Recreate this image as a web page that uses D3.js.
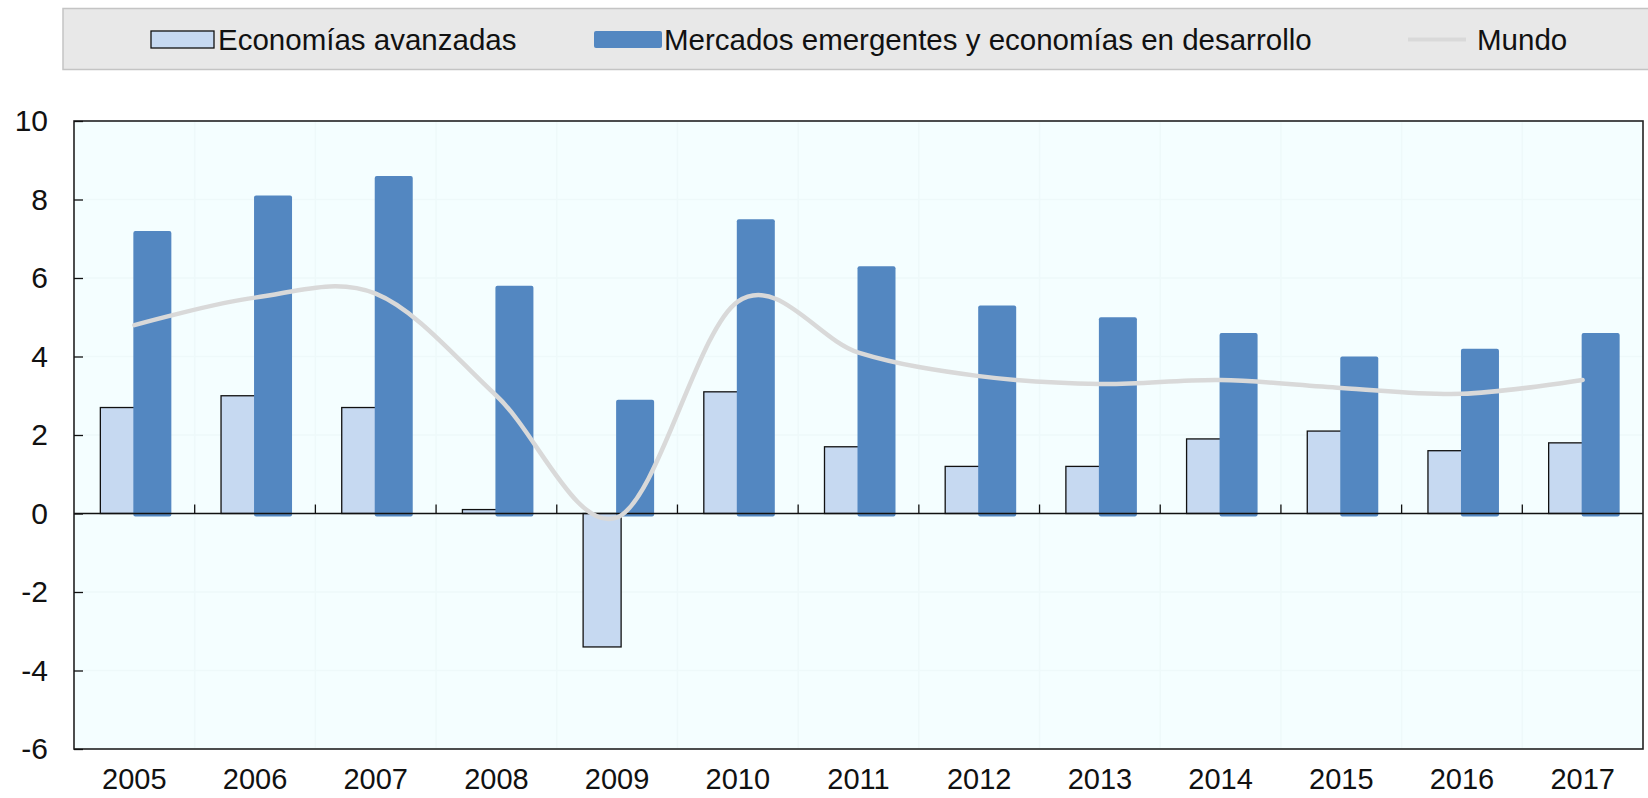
<!DOCTYPE html>
<html>
<head>
<meta charset="utf-8">
<script src="https://cdn.jsdelivr.net/npm/d3@7"></script>
<style>
  body { margin: 0; background: #fff; }
  svg { display: block; font-family: "Liberation Sans", Arial, sans-serif; }
</style>
</head>
<body>
<svg id="chart" width="1648" height="798"></svg>
<script>
// data
const years = ['2005','2006','2007','2008','2009','2010','2011','2012','2013','2014','2015','2016','2017'];
const avanzadas = [2.7, 3.0, 2.7, 0.1, -3.4, 3.1, 1.7, 1.2, 1.2, 1.9, 2.1, 1.6, 1.8];
const emergentes = [7.2, 8.1, 8.6, 5.8, 2.9, 7.5, 6.3, 5.3, 5.0, 4.6, 4.0, 4.2, 4.6];
const mundo = [4.8, 5.5, 5.6, 3.0, -0.1, 5.4, 4.1, 3.5, 3.3, 3.4, 3.2, 3.05, 3.4];
const yTicks = [-6, -4, -2, 0, 2, 4, 6, 8, 10];
const seriesNames = ['Economías avanzadas', 'Mercados emergentes y economías en desarrollo', 'Mundo'];

const lightBlue = '#c6d9f1', darkBlue = '#5387c1', lineGray = '#d9d9d9';

window.onload = function() {
  let svg = d3.select('#chart');
  let left = 74, right = 1643, top = 121, bottom = 749;

  let x = d3.scaleBand().domain(years).range([left, right]);
  let y = d3.scaleLinear().domain([-6, 10]).range([bottom, top]);
  let cx = function(d) { return x(d) + x.bandwidth()/2; };

  // plot background
  svg.append('rect')
    .attr('x', left).attr('y', top)
    .attr('width', right-left).attr('height', bottom-top)
    .attr('fill', '#f4feff');

  // very faint grid
  svg.append('g').selectAll('line').data(yTicks).enter().append('line')
    .attr('x1', left).attr('x2', right)
    .attr('y1', function(d){ return y(d); }).attr('y2', function(d){ return y(d); })
    .attr('stroke', '#eef9fa').attr('stroke-width', 1.5);
  svg.append('g').selectAll('line').data(years.slice(1)).enter().append('line')
    .attr('x1', function(d){ return x(d); }).attr('x2', function(d){ return x(d); })
    .attr('y1', top).attr('y2', bottom)
    .attr('stroke', '#eef9fa').attr('stroke-width', 1.5);

  // bars: light behind, dark on top
  let barW = 38;
  svg.append('g').selectAll('rect').data(years).enter().append('rect')
    .attr('x', function(d){ return cx(d) - 34; })
    .attr('y', function(d, i){ return y(Math.max(0, avanzadas[i])); })
    .attr('width', barW)
    .attr('height', function(d, i){ return Math.abs(y(avanzadas[i]) - y(0)); })
    .attr('fill', lightBlue)
    .attr('stroke', '#111').attr('stroke-width', 1.3);

  svg.append('g').selectAll('rect').data(years).enter().append('rect')
    .attr('x', function(d){ return cx(d) - 1; })
    .attr('y', function(d, i){ return y(emergentes[i]); })
    .attr('width', barW)
    .attr('height', function(d, i){ return y(0) - y(emergentes[i]) + 3; })
    .attr('rx', 2)
    .attr('fill', darkBlue);

  // zero line + boundary ticks
  svg.append('line')
    .attr('x1', left).attr('x2', right)
    .attr('y1', y(0)).attr('y2', y(0))
    .attr('stroke', '#111').attr('stroke-width', 1.5);
  svg.append('g').selectAll('line').data(years.slice(1)).enter().append('line')
    .attr('x1', function(d){ return x(d); }).attr('x2', function(d){ return x(d); })
    .attr('y1', y(0)).attr('y2', y(0) - 9)
    .attr('stroke', '#111').attr('stroke-width', 1.3);

  // world line, smoothed like the spreadsheet
  let line = d3.line()
    .x(function(d, i){ return cx(years[i]); })
    .y(function(d){ return y(d); })
    .curve(d3.curveCardinal.tension(0));
  svg.append('path')
    .attr('d', line(mundo))
    .attr('fill', 'none')
    .attr('stroke', lineGray)
    .attr('stroke-width', 4.5)
    .attr('stroke-linecap', 'round');

  // plot border
  svg.append('rect')
    .attr('x', left).attr('y', top)
    .attr('width', right-left).attr('height', bottom-top)
    .attr('fill', 'none')
    .attr('stroke', '#222').attr('stroke-width', 1.6);

  // y axis
  let yAxis = svg.append('g')
    .attr('transform', 'translate(' + left + ',0)')
    .call(d3.axisLeft(y).tickValues(yTicks).tickSizeInner(-9).tickSizeOuter(0).tickPadding(26)
      .tickFormat(function(d){ return String(d); }));
  yAxis.select('.domain').remove();
  yAxis.selectAll('line').attr('stroke', '#111').attr('stroke-width', 1.3);
  yAxis.selectAll('text')
    .style('font-size', '30px')
    .attr('fill', '#111');

  // x labels
  svg.append('g').selectAll('text').data(years).enter().append('text')
    .text(function(d){ return d; })
    .attr('x', function(d){ return cx(d); })
    .attr('y', 789)
    .attr('text-anchor', 'middle')
    .style('font-size', '29px')
    .attr('fill', '#111');

  // legend
  let lg = svg.append('g');
  lg.append('rect')
    .attr('x', 63).attr('y', 8.5)
    .attr('width', 1600).attr('height', 61)
    .attr('fill', '#e8e8e8')
    .attr('stroke', '#c4c4c4').attr('stroke-width', 1.5);
  lg.append('rect')
    .attr('x', 151).attr('y', 31).attr('width', 63).attr('height', 17)
    .attr('fill', lightBlue).attr('stroke', '#111').attr('stroke-width', 1.3);
  lg.append('rect')
    .attr('x', 594).attr('y', 31).attr('width', 68).attr('height', 17)
    .attr('rx', 2)
    .attr('fill', darkBlue);
  lg.append('line')
    .attr('x1', 1408).attr('x2', 1466).attr('y1', 39.5).attr('y2', 39.5)
    .attr('stroke', lineGray).attr('stroke-width', 4);
  let lx = [218, 664, 1477];
  lg.selectAll('text').data(seriesNames).enter().append('text')
    .text(function(d){ return d; })
    .attr('x', function(d, i){ return lx[i]; })
    .attr('y', 50)
    .style('font-size', '29.5px')
    .attr('fill', '#111');
};
</script>
</body>
</html>
